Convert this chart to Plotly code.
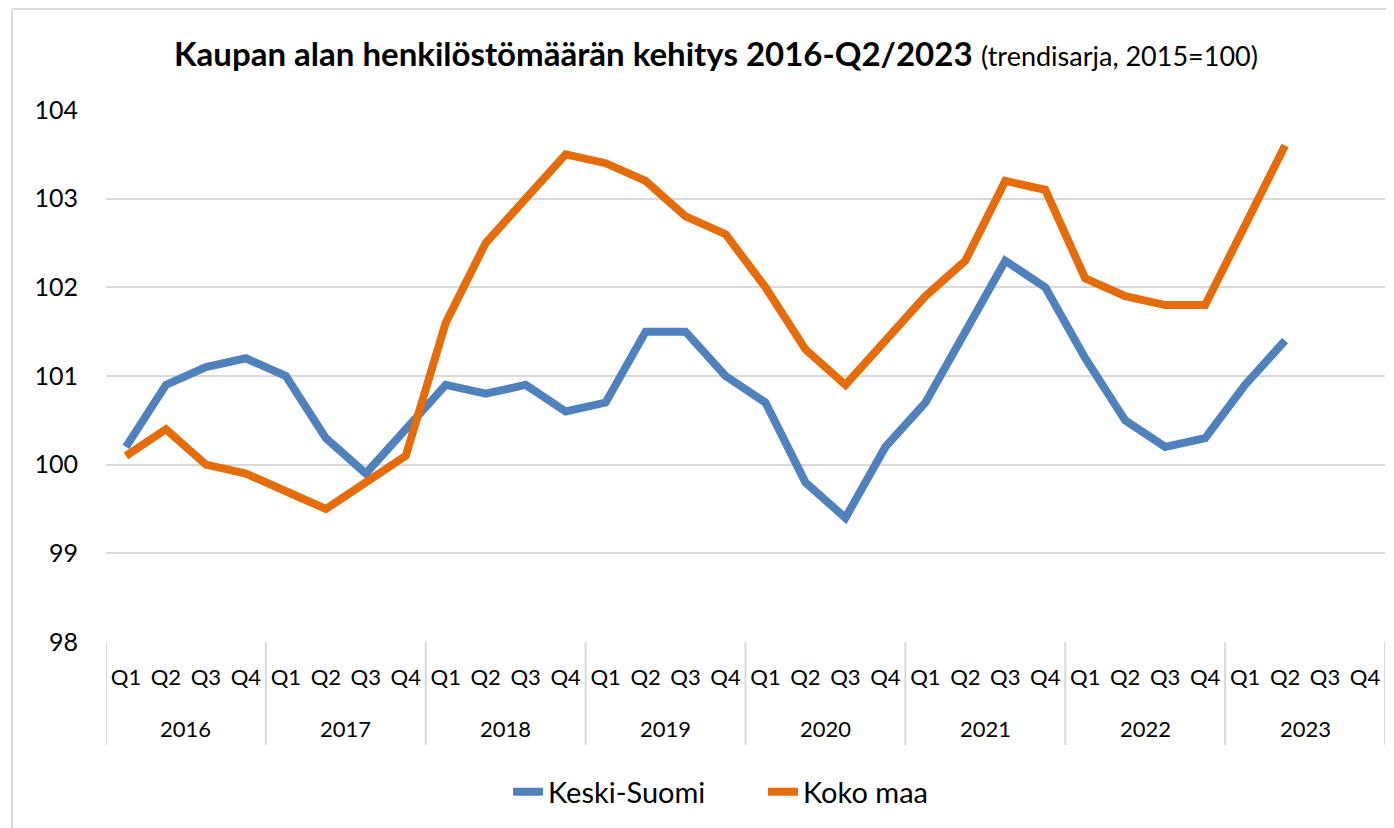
import plotly.graph_objects as go

year_names = ["2016", "2017", "2018", "2019", "2020", "2021", "2022", "2023"]
quarter_names = ["Q1", "Q2", "Q3", "Q4"]

keski_suomi = [100.2, 100.9, 101.1, 101.2,
               101.0, 100.3, 99.9, 100.4,
               100.9, 100.8, 100.9, 100.6,
               100.7, 101.5, 101.5, 101.0,
               100.7, 99.8, 99.4, 100.2,
               100.7, 101.5, 102.3, 102.0,
               101.2, 100.5, 100.2, 100.3,
               100.9, 101.4, None, None]

koko_maa = [100.1, 100.4, 100.0, 99.9,
            99.7, 99.5, 99.8, 100.1,
            101.6, 102.5, 103.0, 103.5,
            103.4, 103.2, 102.8, 102.6,
            102.0, 101.3, 100.9, 101.4,
            101.9, 102.3, 103.2, 103.1,
            102.1, 101.9, 101.8, 101.8,
            102.7, 103.6, None, None]

# category keys like "2016 Q1"
cats = [f"{y} {q}" for y in year_names for q in quarter_names]
q_labels = [q for y in year_names for q in quarter_names]

font = "Lato, Noto Sans, sans-serif"
grid = "#D9D9D9"

# the page body has an 8px margin, so work in window pixels and shift
OFF = 8
W, H = 1394 - OFF, 828 - OFF
L, R, T, B = 106 - OFF, 1385 - OFF, 110 - OFF, 642 - OFF


def px(x):
    return (x - OFF - L) / (R - L)


def py(y):
    return (B - (y - OFF)) / (B - T)


fig = go.Figure()
fig.add_trace(go.Scatter(x=cats, y=keski_suomi, name="Keski-Suomi",
                         mode="lines", line=dict(color="#4F81BD", width=8)))
fig.add_trace(go.Scatter(x=cats, y=koko_maa, name="Koko maa",
                         mode="lines", line=dict(color="#E46C0A", width=8)))

# year labels and dividers under the axis
n = len(quarter_names)
for i, yr in enumerate(year_names):
    fig.add_annotation(x=i * n + (n - 1) / 2, y=py(728), xref="x", yref="paper",
                       text=yr, showarrow=False, yanchor="middle",
                       font=dict(size=22, family=font, color="black"))
for i in range(len(year_names) + 1):
    fig.add_shape(type="line", xref="x", yref="paper",
                  x0=i * n - 0.5, x1=i * n - 0.5, y0=0, y1=py(745),
                  line=dict(color=grid, width=2))

# chart border (left side)
fig.add_shape(type="line", xref="paper", yref="paper",
              x0=px(12), x1=px(12), y0=py(9), y1=py(840),
              line=dict(color=grid, width=2))
fig.add_shape(type="line", xref="paper", yref="paper",
              x0=px(12), x1=px(1400), y0=py(9), y1=py(9),
              line=dict(color=grid, width=2))

fig.update_layout(
    width=W, height=H,
    margin=dict(l=L, r=W - R, t=T, b=H - B, autoexpand=False),
    paper_bgcolor="white", plot_bgcolor="white",
    font=dict(family=font, color="black"),
    title=dict(text="<b>Kaupan alan henkilöstömäärän kehitys 2016-Q2/2023</b>"
                    " <span style='font-size:27px'>(trendisarja, 2015=100)</span>",
               xref="paper", x=px(716), xanchor="center",
               yref="container", y=1 - (54 - OFF) / H, yanchor="middle",
               font=dict(size=33, family=font, color="black")),
    yaxis=dict(range=[98, 104], dtick=1, showgrid=True, gridcolor=grid,
               gridwidth=2, zeroline=False, showline=False, automargin=False,
               tickfont=dict(size=25, family=font, color="black"),
               ticklabelstandoff=27),
    xaxis=dict(type="category", range=[-0.5, len(cats) - 0.5], showgrid=False,
               showline=False, automargin=False,
               tickvals=cats, ticktext=q_labels, ticklabelstandoff=20,
               tickfont=dict(size=22, family=font, color="black")),
    legend=dict(orientation="h", x=px(508), xanchor="left", y=py(792), yanchor="middle",
                entrywidth=210, font=dict(size=29, family=font, color="black")),
    showlegend=True,
)

fig.write_html("out.html")
